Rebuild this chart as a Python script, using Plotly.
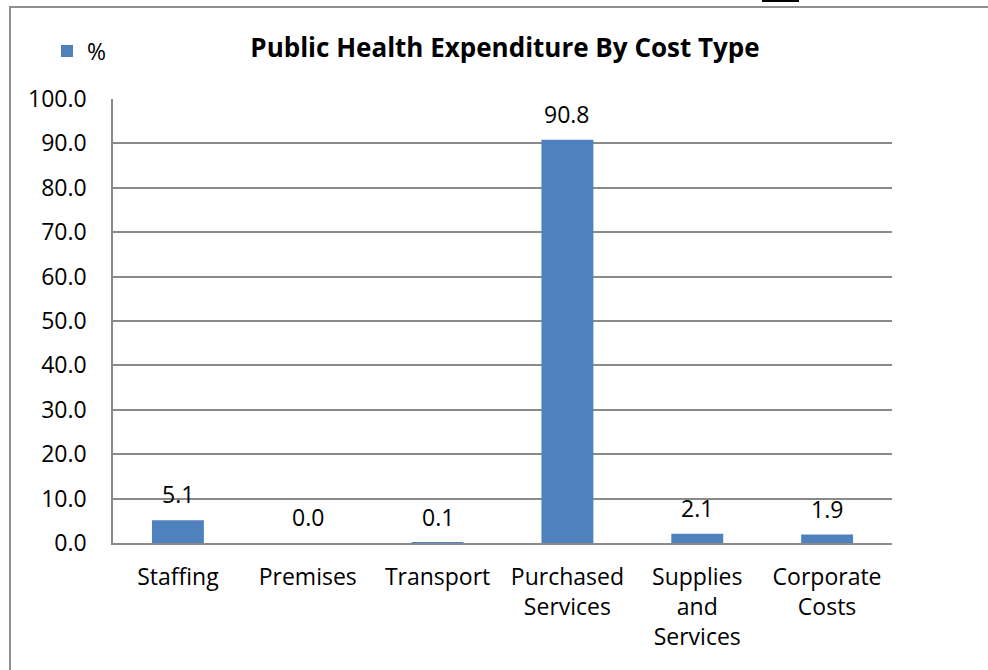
import plotly.graph_objects as go

categories = ["Staffing", "Premises", "Transport", "Purchased<br>Services",
              "Supplies<br>and<br>Services", "Corporate<br>Costs"]
values = [5.1, 0.0, 0.1, 90.8, 2.1, 1.9]
value_labels = ["5.1", "0.0", "0.1", "90.8", "2.1", "1.9"]
y_ticks = [0, 10, 20, 30, 40, 50, 60, 70, 80, 90, 100]
series_name = "%"
title_text = "Public Health Expenditure By Cost Type"

BAR = "#4F81BD"
GRID = "#8a8a8a"
FONT = "Open Sans"

fig = go.Figure()
fig.add_trace(go.Bar(x=categories, y=values, name=series_name,
                     marker=dict(color=BAR, line=dict(width=0)),
                     showlegend=True))

for c, v, t in zip(categories, values, value_labels):
    fig.add_annotation(x=c, y=v, text=t, showarrow=False, xref="x", yref="y",
                       yanchor="middle", yshift=26,
                       font=dict(family=FONT, size=23, color="#000000"))

W, H = 988, 670
L, R, T, B = 113, 96, 99, 127
pw, ph = W - L - R, H - T - B

def px_x(p):
    return (p - L) / pw

def px_y(p):
    return (H - B - p) / ph

# outer chart border
fig.add_shape(type="rect", xref="paper", yref="paper",
              x0=px_x(10), x1=px_x(995), y0=px_y(680), y1=px_y(7),
              line=dict(color="#8f8f8f", width=2), fillcolor="rgba(0,0,0,0)", layer="below")
# small dark mark at the top edge
fig.add_shape(type="line", xref="paper", yref="paper",
              x0=px_x(762), x1=px_x(799), y0=px_y(1), y1=px_y(1),
              line=dict(color="#000000", width=2))

fig.update_layout(
    width=W, height=H,
    margin=dict(l=L, r=R, t=T, b=B, pad=0),
    paper_bgcolor="white", plot_bgcolor="white",
    bargap=0.6,
    font=dict(family=FONT, size=23, color="#000000"),
    title=dict(text="<b>" + title_text + "</b>", xref="paper", yref="container",
               x=px_x(505), xanchor="center", y=1 - 48 / H, yanchor="middle",
               font=dict(family=FONT, size=26, color="#000000")),
    legend=dict(x=px_x(47), xanchor="left", y=px_y(51), yanchor="middle",
                bgcolor="rgba(0,0,0,0)", font=dict(family=FONT, size=23)),
    xaxis=dict(type="category", showgrid=False, showline=True, linecolor=GRID, linewidth=1.5,
               ticks="", tickfont=dict(family=FONT, size=23), ticklabelstandoff=13,
               fixedrange=True),
    yaxis=dict(range=[0, 100], tickvals=y_ticks, tickformat=".1f", showgrid=True,
               gridcolor=GRID, gridwidth=1.5, showline=True, linecolor=GRID, linewidth=1.5,
               zeroline=False, ticks="", ticklabelstandoff=20,
               tickfont=dict(family=FONT, size=23), fixedrange=True),
)

fig.write_html("out.html")
